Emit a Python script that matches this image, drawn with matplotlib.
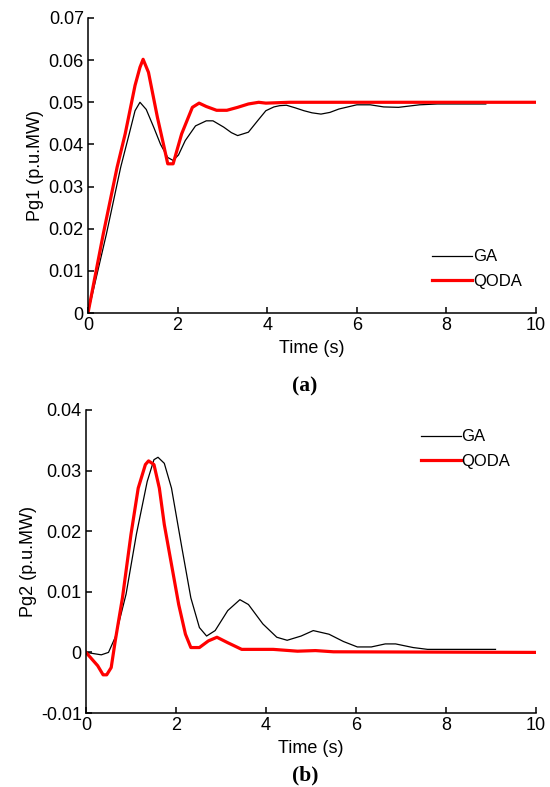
import matplotlib
matplotlib.use("Agg")
import matplotlib.pyplot as plt

# ---- Panel (a): Pg1 ----
t_ga1 = [0, 0.41, 0.73, 0.92, 1.05, 1.16, 1.3, 1.47, 1.62, 1.78, 1.9, 2.02, 2.17, 2.4, 2.64, 2.79, 3.03, 3.2, 3.34, 3.58,
         3.8, 3.97, 4.15, 4.28, 4.43, 4.62, 4.82, 5.0, 5.2, 5.4, 5.6, 6.0, 6.3, 6.6, 6.93, 7.4, 7.8, 8.3, 8.88]
pg1_ga = [0, 0.0187, 0.0346, 0.0425, 0.0480, 0.0500, 0.0483, 0.0440, 0.0400, 0.0369, 0.0362, 0.0375, 0.0409, 0.0444,
          0.0456, 0.0456, 0.0441, 0.0428, 0.0421, 0.0429, 0.0458, 0.0480, 0.0489, 0.0492, 0.0493, 0.0487, 0.0480,
          0.0475, 0.0472, 0.0476, 0.0484, 0.0494, 0.0494, 0.0489, 0.0488, 0.0494, 0.0496, 0.0496, 0.0496]

t_qo1 = [0, 0.34, 0.65, 0.83, 1.05, 1.16, 1.23, 1.35, 1.55, 1.7, 1.78, 1.9, 2.09, 2.33, 2.48, 2.64, 2.87, 3.1, 3.34,
         3.58, 3.81, 3.97, 4.5, 10]
pg1_qo = [0, 0.0187, 0.0346, 0.0425, 0.0540, 0.0583, 0.0602, 0.0571, 0.0464, 0.0393, 0.0354, 0.0354, 0.0425, 0.0488,
          0.0498, 0.0490, 0.0481, 0.0481, 0.0488, 0.0496, 0.0500, 0.0498, 0.0500, 0.0500]

# ---- Panel (b): Pg2 ----
t_ga2 = [0, 0.34, 0.5, 0.65, 0.89, 1.12, 1.36, 1.51, 1.6, 1.74, 1.9, 2.13, 2.33, 2.52, 2.68, 2.87, 3.15, 3.42, 3.61,
         3.93, 4.24, 4.47, 4.78, 5.05, 5.4, 5.72, 6.03, 6.34, 6.65, 6.88, 7.27, 7.59, 8.2, 9.1]
pg2_ga = [0, -0.0004, 0.0, 0.0025, 0.0096, 0.0195, 0.0282, 0.0318, 0.0322, 0.0312, 0.0271, 0.0173, 0.0090, 0.0041,
          0.0027, 0.0036, 0.0069, 0.0087, 0.0079, 0.0047, 0.0025, 0.0020, 0.0027, 0.0036, 0.0030, 0.0018, 0.0009,
          0.0009, 0.0014, 0.0014, 0.0008, 0.0005, 0.0005, 0.0005]

t_qo2 = [0, 0.26, 0.38, 0.46, 0.56, 0.65, 0.81, 1.0, 1.16, 1.32, 1.39, 1.51, 1.63, 1.74, 1.9, 2.06, 2.21, 2.33, 2.52,
         2.72, 2.91, 3.15, 3.46, 3.85, 4.16, 4.7, 5.1, 5.5, 10]
pg2_qo = [0, -0.0022, -0.0037, -0.0037, -0.0025, 0.0019, 0.0090, 0.0195, 0.0271, 0.0310, 0.0316, 0.0310, 0.0271,
          0.0211, 0.0145, 0.0079, 0.0030, 0.0008, 0.0008, 0.0019, 0.0025, 0.0016, 0.0005, 0.0005, 0.0005, 0.0002,
          0.0003, 0.0001, 0.0]

x_ticks = [0, 2, 4, 6, 8, 10]
y1_ticks = [0, 0.01, 0.02, 0.03, 0.04, 0.05, 0.06, 0.07]
y1_labels = ["0", "0.01", "0.02", "0.03", "0.04", "0.05", "0.06", "0.07"]
y2_ticks = [-0.01, 0, 0.01, 0.02, 0.03, 0.04]
y2_labels = ["-0.01", "0", "0.01", "0.02", "0.03", "0.04"]

plt.rcParams['font.family'] = ['Liberation Sans', 'DejaVu Sans']

fig = plt.figure(figsize=(5.5, 7.87), dpi=100)
ax1 = fig.add_axes([88 / 550, 1 - 313 / 787, 448 / 550, 295 / 787])
ax2 = fig.add_axes([86 / 550, 1 - 713 / 787, 450 / 550, 303 / 787])


def style(ax, yticks, ylabels, ylim, ylabel):
    ax.set_xlim(0, 10)
    ax.set_ylim(*ylim)
    ax.set_xticks(x_ticks)
    ax.set_xticklabels([str(v) for v in x_ticks])
    ax.set_yticks(yticks)
    ax.set_yticklabels(ylabels)
    for s in ['top', 'right']:
        ax.spines[s].set_visible(False)
    for s in ['left', 'bottom']:
        ax.spines[s].set_linewidth(1.1)
    ax.tick_params(direction='in', length=4, width=1.1, labelsize=13, pad=3)
    ax.set_xlabel("Time (s)", fontsize=13, labelpad=4)
    ax.set_ylabel(ylabel, fontsize=13, labelpad=3)


ax1.plot(t_ga1, pg1_ga, color='black', lw=0.9, label='GA')
ax1.plot(t_qo1, pg1_qo, color='#ff0000', lw=2.3, label='QODA')
style(ax1, y1_ticks, y1_labels, (0, 0.07), "Pg1 (p.u.MW)")
ax1.legend(loc='center left', bbox_to_anchor=(0.735, 0.149), frameon=False, fontsize=12,
           handlelength=2.4, handletextpad=0.05, labelspacing=0.56)

ax2.plot(t_ga2, pg2_ga, color='black', lw=0.9, label='GA')
ax2.plot(t_qo2, pg2_qo, color='#ff0000', lw=2.3, label='QODA')
style(ax2, y2_ticks, y2_labels, (-0.01, 0.04), "Pg2 (p.u.MW)")
ax2.legend(loc='center left', bbox_to_anchor=(0.71, 0.871), frameon=False, fontsize=12,
           handlelength=2.4, handletextpad=0.05, labelspacing=0.56)

fig.text(305 / 550, 1 - 386 / 787, "(a)", ha='center', va='center', fontsize=15.5, fontweight='bold',
         family='Liberation Serif')
fig.text(305 / 550, 1 - 775 / 787, "(b)", ha='center', va='center', fontsize=15.5, fontweight='bold',
         family='Liberation Serif')

fig.savefig("out.png", dpi=100)
